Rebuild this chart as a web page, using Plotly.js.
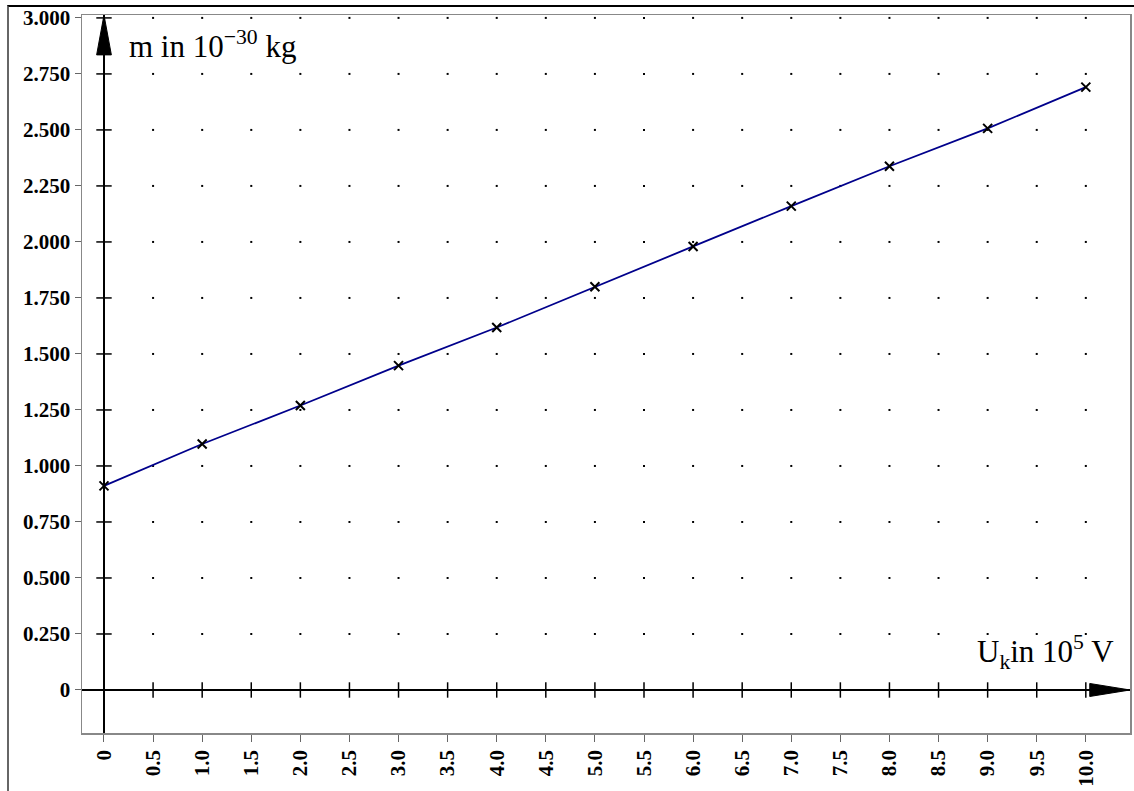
<!DOCTYPE html>
<html><head><meta charset="utf-8">
<script src="https://cdn.plot.ly/plotly-3.0.1.min.js"></script>
<style>
html,body{margin:0;padding:0;background:#fff;}
#frame{position:absolute;left:7px;top:5px;width:1127px;height:786px;border-top:2px solid #000;border-left:2px solid #666;box-sizing:border-box;}
#plot{position:absolute;left:0;top:0;width:1134px;height:791px;}
</style></head>
<body>
<div id="frame"></div>
<div id="plot"></div>
<script>
// Data
const voltage = [0, 1, 2, 3, 4, 5, 6, 7, 8, 9, 10];           // U_k in 10^5 V
const mass = [0.911, 1.098, 1.27, 1.448, 1.618, 1.80, 1.98, 2.16, 2.338, 2.507, 2.691]; // m in 10^-30 kg
const xTicks = [0, 0.5, 1, 1.5, 2, 2.5, 3, 3.5, 4, 4.5, 5, 5.5, 6, 6.5, 7, 7.5, 8, 8.5, 9, 9.5, 10];
const xTickText = ['0', '0.5', '1.0', '1.5', '2.0', '2.5', '3.0', '3.5', '4.0', '4.5', '5.0', '5.5', '6.0', '6.5', '7.0', '7.5', '8.0', '8.5', '9.0', '9.5', '10.0'];
const yTicks = [0, 0.25, 0.5, 0.75, 1, 1.25, 1.5, 1.75, 2, 2.25, 2.5, 2.75, 3];
const yTickText = ['0', '0.250', '0.500', '0.750', '1.000', '1.250', '1.500', '1.750', '2.000', '2.250', '2.500', '2.750', '3.000'];

// grid dots at tick intersections
const gx = [], gy = [];
xTicks.filter(v => v !== 0).forEach(x => yTicks.filter(v => v !== 0).forEach(y => { gx.push(x); gy.push(y); }));

const traces = [
  {x: gx, y: gy, mode: 'markers', type: 'scatter', hoverinfo: 'skip',
   marker: {symbol: 'square', size: 2, color: '#000', line: {width: 0}}},
  {x: xTicks.filter(v => v !== 0), y: xTicks.filter(v => v !== 0).map(() => 0), mode: 'markers', type: 'scatter',
   marker: {symbol: 'line-ns', size: 11, line: {width: 1.5, color: '#000'}}, cliponaxis: false},
  {x: yTicks.filter(v => v !== 0).map(() => 0), y: yTicks.filter(v => v !== 0), mode: 'markers', type: 'scatter',
   marker: {symbol: 'line-ew', size: 11, line: {width: 1.5, color: '#000'}}, cliponaxis: false},
  {x: voltage, y: mass, mode: 'lines', type: 'scatter', line: {color: '#00008b', width: 1.8}},
  {x: voltage, y: mass, mode: 'markers', type: 'scatter',
   marker: {symbol: 'x-thin', size: 9, line: {width: 2, color: '#000'}}}
];

const tickFont = {family: 'Liberation Serif, Times New Roman, serif', size: 21, color: '#000', weight: 'bold'};
const titleFont = {family: 'Liberation Serif, Times New Roman, serif', size: 31, color: '#000'};

const layout = {
  width: 1134, height: 791,
  margin: {l: 82, r: 4, t: 15, b: 58, pad: 0},
  paper_bgcolor: 'rgba(0,0,0,0)', plot_bgcolor: 'rgba(0,0,0,0)',
  showlegend: false,
  xaxis: {range: [-0.224, 10.45], tickmode: 'array', tickvals: xTicks, ticktext: xTickText,
    tickangle: -90, tickfont: tickFont, ticks: 'outside', ticklen: 7, tickcolor: '#666', tickwidth: 1,
    showgrid: false, zeroline: true, zerolinecolor: '#000', zerolinewidth: 2,
    showline: true, mirror: true, linecolor: '#888', linewidth: 1.5},
  yaxis: {range: [-0.192, 3.013], tickmode: 'array', tickvals: yTicks, ticktext: yTickText,
    tickfont: tickFont, ticks: 'outside', ticklen: 6, tickcolor: '#666', tickwidth: 1,
    showgrid: false, zeroline: true, zerolinecolor: '#000', zerolinewidth: 2,
    showline: true, mirror: true, linecolor: '#888', linewidth: 1.5},
  shapes: [
    {type: 'path', xref: 'x', yref: 'y', path: 'M -0.075 2.835 L 0 3.013 L 0.075 2.835 Z',
     fillcolor: '#000', line: {color: '#000', width: 1}},
    {type: 'path', xref: 'x', yref: 'y', path: 'M 10.04 -0.029 L 10.45 0 L 10.04 0.029 Z',
     fillcolor: '#000', line: {color: '#000', width: 1}}
  ],
  annotations: [
    {xref: 'x', yref: 'y', x: 0.23, y: 2.88, xanchor: 'left', yanchor: 'middle', showarrow: false,
     text: 'm in 10<sup>−30</sup> kg', font: titleFont},
    {xref: 'x', yref: 'y', x: 8.87, y: 0.17, xanchor: 'left', yanchor: 'middle', showarrow: false,
     text: 'U<sub>k</sub>in 10<sup>5</sup> V', font: titleFont}
  ]
};

Plotly.newPlot('plot', traces, layout, {displayModeBar: false, staticPlot: true});
</script>
</body></html>
